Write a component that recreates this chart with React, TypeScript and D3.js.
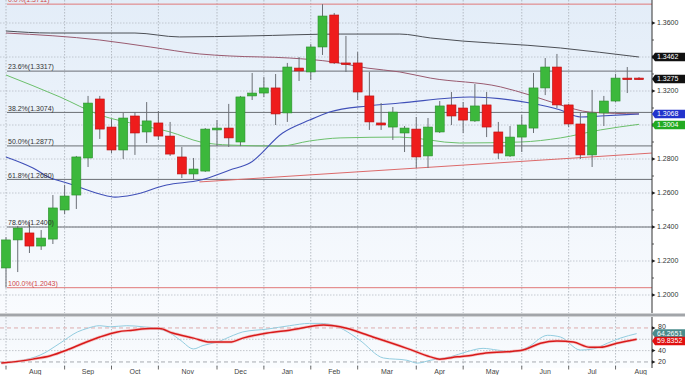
import React from "react";
import * as d3 from "d3";

// ---- candle data (weekly) ----
const opens = [1.2159,1.2324,1.2365,1.2288,1.2329,1.2500,1.2588,1.2806,1.3153,1.2988,1.2853,1.3053,1.2959,1.3012,1.2935,1.2812,1.2712,1.2729,1.2971,1.2982,1.2900,1.3171,1.3188,1.3218,1.3071,1.3335,1.3312,1.3459,1.3647,1.3365,1.3365,1.3171,1.3012,1.2988,1.2953,1.2976,1.2818,1.2959,1.3118,1.3100,1.3024,1.3118,1.2959,1.2818,1.2929,1.2982,1.3218,1.3341,1.3118,1.3006,1.2824,1.3071,1.3141,1.3276,1.3276];
const highs = [1.2340,1.2406,1.2429,1.2382,1.2588,1.2647,1.2818,1.3171,1.3171,1.3035,1.3071,1.3076,1.3135,1.3082,1.3018,1.2871,1.2806,1.2982,1.3029,1.3124,1.3171,1.3306,1.3282,1.3300,1.3365,1.3400,1.3476,1.3711,1.3659,1.3524,1.3429,1.3312,1.3129,1.3106,1.2994,1.3047,1.3041,1.3141,1.3194,1.3135,1.3241,1.3194,1.3018,1.2994,1.3059,1.3306,1.3394,1.3418,1.3124,1.3071,1.3206,1.3171,1.3300,1.3341,1.3282];
const lows = [1.2043,1.2135,1.2247,1.2265,1.2300,1.2476,1.2506,1.2753,1.2918,1.2835,1.2800,1.2824,1.2894,1.2912,1.2818,1.2688,1.2682,1.2724,1.2876,1.2871,1.2876,1.3147,1.3165,1.3000,1.3018,1.3259,1.3265,1.3412,1.3359,1.3312,1.3147,1.2971,1.2971,1.2912,1.2841,1.2747,1.2747,1.2953,1.3000,1.2953,1.3018,1.2929,1.2800,1.2812,1.2841,1.2953,1.3176,1.3100,1.2988,1.2800,1.2753,1.2994,1.3135,1.3188,1.3265];
const closes = [1.2324,1.2394,1.2288,1.2335,1.2512,1.2582,1.2812,1.3129,1.2976,1.2853,1.3041,1.2953,1.3024,1.2935,1.2829,1.2712,1.2741,1.2976,1.2982,1.2924,1.3165,1.3188,1.3218,1.3065,1.3341,1.3318,1.3459,1.3641,1.3365,1.3359,1.3194,1.3018,1.3000,1.3076,1.2982,1.2812,1.2988,1.3112,1.3053,1.3029,1.3112,1.2988,1.2835,1.2929,1.3000,1.3218,1.3341,1.3118,1.3006,1.2824,1.3071,1.3141,1.3276,1.3271,1.3275];

// ---- moving averages (week index, price) ----
const maGreyIdx = [0,3.8,11,14.8,20.8,28.5,33.6,36.2,47.3,54];
const maGreyVal = [1.3553,1.3541,1.3541,1.3518,1.3524,1.3535,1.3535,1.3512,1.3453,1.3400];
const maMauveIdx = [0,8,12.3,16.5,19.1,24.2,27.9,30.8,33.6,36.2,42.2,44.7,47.3,49.8,54];
const maMauveVal = [1.3541,1.3500,1.3459,1.3418,1.3406,1.3394,1.3371,1.3335,1.3312,1.3276,1.3224,1.3176,1.3118,1.3076,1.3065];
const maBlueIdx = [0,2.3,3.8,5.2,8,9.3,10.8,13.7,16.6,19.1,20.8,23.6,25.9,27.6,30.8,33.6,39.6,44.7,47.3,49,50.7,54];
const maBlueVal = [1.2812,1.2747,1.2688,1.2659,1.2594,1.2576,1.2588,1.2647,1.2676,1.2735,1.2776,1.2953,1.3029,1.3076,1.3112,1.3129,1.3165,1.3129,1.3088,1.3047,1.3053,1.3065];
const maGreenIdx = [0,4.6,8,11.4,14,16.6,19.1,23.4,25.9,28.5,33.6,38.7,43.9,47.3,50.7,54];
const maGreenVal = [1.3294,1.3165,1.3059,1.3000,1.2959,1.2900,1.2882,1.2876,1.2906,1.2924,1.2929,1.2894,1.2900,1.2924,1.2971,1.3004];
const trendIdx = [16.5,55.1];
const trendVal = [1.2665,1.2835];

// ---- fibonacci ----
const fibPct = ["0.0%","23.6%","38.2%","50.0%","61.8%","78.6%","100.0%"];
const fibVal = [1.3711,1.3317,1.3074,1.2877,1.2680,1.2400,1.2043];

// ---- axis ----
const priceTicks = [1.20,1.22,1.24,1.26,1.28,1.30,1.32,1.34,1.36];
const monthTickIdx = [0,5,9,13,18,22,26,30,35,39,44,48,52,56.3];
const monthLabels = ["Aug","Sep","Oct","Nov","Dec","Jan","Feb","Mar","Apr","May","Jun","Jul","Aug"];

// ---- oscillator ----
const stochKIdx = [-0.4,2.9,4.6,6.1,6.9,8,8.9,10.3,11.7,12.9,14,14.9,16,16.8,18,19.4,20.2,22.3,24.2,25.9,26.8,27.9,28.8,30.2,32.2,34.2,35.1,36.2,37.9,39.3,40.7,41.9,43.3,44.5,46.2,47.3,49,50.1,51.3,52.4,53.8];
const stochKVal = [18,32,53,73,79,84,82,84,82,79,71,58,43,49,55,67,73,78,84,88,88,85,77,58,27,23,18,23,29,38,44,41,38,46,67,64,41,43,53,62,70];
const stochDIdx = [-0.4,2.3,3.8,5.2,6.6,8,9.5,10.8,12.3,13.1,14.2,16,17.4,19.1,20.2,22.3,24.2,27.1,28.5,31.3,34.2,36.2,37,38.5,39.8,40.7,42.7,44.1,45.6,47,48.4,49.8,50.7,52.1,53.8];
const stochDVal = [18,25,31,41,53,64,73,76,79,79,71,62,55,55,62,71,76,85,82,64,44,29,25,29,32,35,38,41,53,57,55,46,46,53,60];
const oscTicks = [20,40,80];

const valueBoxes = [
  { text: "1.3462", y: 57, color: "#111" },
  { text: "1.3275", y: 79, color: "#111" },
  { text: "1.3068", y: 114, color: "#2233cc" },
  { text: "1.3004", y: 125, color: "#22aa22" },
];
const oscBoxes = [
  { text: "64.2651", y: 333.5, color: "#4a8c8c" },
  { text: "59.8352", y: 341, color: "#e01010" },
];

const W = 685, H = 375;
const AX = 652;
const MAIN_BOTTOM = 313;
const OSC_TOP = 317, OSC_BOTTOM = 368;

export default function App() {
  const x = d3.scaleLinear().domain([0, 54]).range([6, 639]);
  const y = d3.scaleLinear().domain([1.2, 1.36]).range([295, 23]);
  const yo = d3.scaleLinear().domain([0, 100]).range([373.3, 316.6]);

  const mkLine = (idx: number[], val: number[], ys: d3.ScaleLinear<number, number>) =>
    d3.line<number>().x((_, i) => x(idx[i])).y((v) => ys(v)).curve(d3.curveMonotoneX)(val) || "";

  const font = "'Liberation Sans', Arial, sans-serif";
  const bw = 9;

  return (
    <svg width={W} height={H} style={{ position: "absolute", left: 0, top: 0, background: "#fff" }} fontFamily={font}>
      <defs>
        <linearGradient id="bg" x1="0" y1="0" x2="0" y2="1">
          <stop offset="0" stopColor="#e3edf8" />
          <stop offset="1" stopColor="#f9fbfe" />
        </linearGradient>
        <linearGradient id="bg2" x1="0" y1="0" x2="0" y2="1">
          <stop offset="0" stopColor="#f2f6fb" />
          <stop offset="1" stopColor="#fbfdff" />
        </linearGradient>
        <clipPath id="mainClip"><rect x={0} y={0} width={AX} height={MAIN_BOTTOM} /></clipPath>
        <clipPath id="oscClip"><rect x={0} y={OSC_TOP} width={AX} height={OSC_BOTTOM - OSC_TOP} /></clipPath>
      </defs>
      <rect x={0} y={0} width={AX} height={MAIN_BOTTOM} fill="url(#bg)" />
      <rect x={0} y={OSC_TOP} width={AX} height={OSC_BOTTOM - OSC_TOP} fill="url(#bg2)" />

      {/* main grid */}
      <g clipPath="url(#mainClip)">
        {priceTicks.map((t) => (
          <line key={t} x1={0} x2={AX} y1={y(t)} y2={y(t)} stroke="#b8bec6" strokeDasharray="1.5,1.5" strokeWidth={0.8} />
        ))}
        {monthTickIdx.map((m, i) => (
          <line key={i} x1={x(m)} x2={x(m)} y1={0} y2={MAIN_BOTTOM} stroke="#a8aeb6" strokeDasharray="1.5,1.5" strokeWidth={0.8} />
        ))}
        {/* fibonacci lines */}
        {fibVal.map((v, i) => {
          const red = i === 0 || i === fibVal.length - 1;
          return (
            <line key={i} x1={7} x2={AX} y1={y(v)} y2={y(v)} stroke={red ? "#e07878" : "#6a6e74"} strokeWidth={1} />
          );
        })}
        {/* moving averages */}
        <path d={mkLine(maGreyIdx, maGreyVal, y)} fill="none" stroke="#4c4f55" strokeWidth={1} />
        <path d={mkLine(maMauveIdx, maMauveVal, y)} fill="none" stroke="#9a5b70" strokeWidth={1} />
        <path d={mkLine(maGreenIdx, maGreenVal, y)} fill="none" stroke="#6cc06c" strokeWidth={1} />
        <path d={mkLine(maBlueIdx, maBlueVal, y)} fill="none" stroke="#4050b8" strokeWidth={1.1} />
        <path d={mkLine(trendIdx, trendVal, y)} fill="none" stroke="#dc6a6a" strokeWidth={1} />
        {/* candles */}
        {opens.map((o, i) => {
          const c = closes[i];
          const up = c >= o;
          const top = y(Math.max(o, c));
          const h = Math.max(1.6, Math.abs(y(o) - y(c)));
          const cx = x(i);
          return (
            <g key={i}>
              <line x1={cx} x2={cx} y1={y(highs[i])} y2={y(lows[i])} stroke="#6b6f75" strokeWidth={1} />
              <rect x={cx - bw / 2} y={top} width={bw} height={h}
                fill={up ? "#3cb83c" : "#ee1c1c"} stroke={up ? "#2a8f2a" : "#b81010"} strokeWidth={0.6} />
            </g>
          );
        })}
        {/* fibonacci labels on top */}
        {fibVal.map((v, i) => {
          const red = i === 0 || i === fibVal.length - 1;
          return (
            <text key={i} x={8} y={y(v) - 1.8} fontSize={7} fill={red ? "#d04848" : "#333"}>
              {`${fibPct[i]}(${v.toFixed(4)})`}
            </text>
          );
        })}
      </g>

      {/* separator */}
      <rect x={0} y={MAIN_BOTTOM + 0.5} width={W} height={3} fill="#a2a5a9" />

      {/* oscillator */}
      <g clipPath="url(#oscClip)">
        {monthTickIdx.map((m, i) => (
          <line key={i} x1={x(m)} x2={x(m)} y1={OSC_TOP} y2={OSC_BOTTOM} stroke="#a8aeb6" strokeDasharray="1.5,1.5" strokeWidth={0.8} />
        ))}
        <line x1={0} x2={AX} y1={yo(80)} y2={yo(80)} stroke="#d9a4a4" strokeDasharray="4,3" strokeWidth={0.9} />
        <line x1={0} x2={AX} y1={yo(60)} y2={yo(60)} stroke="#b5b9be" strokeDasharray="1.5,1.5" strokeWidth={0.8} />
        <line x1={0} x2={AX} y1={yo(40)} y2={yo(40)} stroke="#b5b9be" strokeDasharray="1.5,1.5" strokeWidth={0.8} />
        <line x1={0} x2={AX} y1={yo(20)} y2={yo(20)} stroke="#9ea3a8" strokeDasharray="4,3" strokeWidth={0.9} />
        <path d={mkLine(stochKIdx, stochKVal, yo)} fill="none" stroke="#93cde0" strokeWidth={1} />
        <path d={mkLine(stochDIdx, stochDVal, yo)} fill="none" stroke="#f5a3a3" strokeWidth={3} opacity={0.6} />
        <path d={mkLine(stochDIdx, stochDVal, yo)} fill="none" stroke="#d81a1a" strokeWidth={1.5} />
      </g>

      {/* right axis */}
      <line x1={AX} x2={AX} y1={0} y2={MAIN_BOTTOM} stroke="#333" strokeWidth={1} />
      <line x1={AX} x2={AX} y1={OSC_TOP} y2={OSC_BOTTOM} stroke="#333" strokeWidth={1} />
      {priceTicks.map((t) => (
        <g key={t}>
          <path d={`M${AX},${y(t) - 1.8}L${AX + 3.5},${y(t)}L${AX},${y(t) + 1.8}Z`} fill="#222" />
          <text x={AX + 5} y={y(t)} dy="0.35em" fontSize={7} fill="#333">{t.toFixed(4)}</text>
        </g>
      ))}
      {priceTicks.slice(0, -1).map((t) => (
        <line key={"m" + t} x1={AX} x2={AX + 2} y1={y(t + 0.01)} y2={y(t + 0.01)} stroke="#333" strokeWidth={0.8} />
      ))}
      {oscTicks.map((t) => (
        <g key={t}>
          <path d={`M${AX},${yo(t) - 1.8}L${AX + 3.5},${yo(t)}L${AX},${yo(t) + 1.8}Z`} fill="#222" />
          <text x={AX + 6} y={yo(t) - (t === 80 ? 1 : 0)} dy="0.35em" fontSize={7} fill="#333">{t}</text>
        </g>
      ))}
      {[...valueBoxes, ...oscBoxes].map((b, i) => (
        <g key={i}>
          <path d={`M${AX},${b.y}L${AX + 3},${b.y - 4.3}L${W},${b.y - 4.3}L${W},${b.y + 4.3}L${AX + 3},${b.y + 4.3}Z`} fill={b.color} />
          <text x={AX + 5} y={b.y} dy="0.35em" fontSize={7} fill="#fff">{b.text}</text>
        </g>
      ))}

      {/* month axis */}
      {monthTickIdx.slice(0, -1).map((m, i) => (
        <line key={i} x1={x(m)} x2={x(m)} y1={OSC_BOTTOM - 2} y2={OSC_BOTTOM + 1.5} stroke="#444" strokeWidth={0.8} />
      ))}
      {monthLabels.map((lab, i) => (
        <text key={i} x={x((monthTickIdx[i] + monthTickIdx[i + 1]) / 2)} y={373.5} fontSize={7} fill="#444" textAnchor="middle">
          {lab}
        </text>
      ))}
    </svg>
  );
}
